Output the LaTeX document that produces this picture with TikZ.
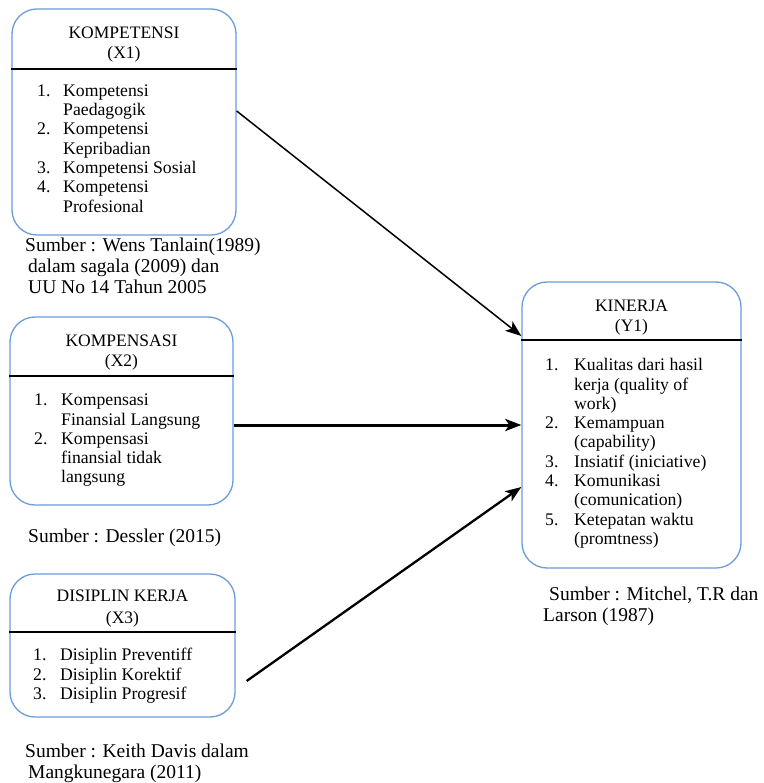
\documentclass[tikz,border=0pt]{standalone}
\usepackage{fontspec}
\setmainfont{Liberation Serif}
\usepackage{xcolor}
\usetikzlibrary{arrows.meta}
\definecolor{boxblue}{HTML}{6A9BDB}
\tikzset{varbox/.style={draw=boxblue, line width=1.3pt, rounded corners=25pt, inner sep=0pt},
 title/.style={align=center, inner sep=0pt, font=\fontsize{17.5}{20}\selectfont},
 items/.style={inner sep=0pt, anchor=north west, font=\fontsize{17.7}{19.3}\selectfont},
 source/.style={align=left, inner sep=0pt, anchor=north west, font=\fontsize{19.5}{21}\selectfont},
 divider/.style={draw=black, line width=1.2pt},
 link/.style={draw=black, -{Stealth[length=16pt,width=12pt,inset=4pt]}},
 }

\begin{document}
\begin{tikzpicture}[x=1pt,y=-1pt]
        \useasboundingbox (0,0) rectangle (763,783);

        \node[varbox, minimum width=224pt, minimum height=226pt] (x1) at (124,122) {};
        \node[title] (x1title) at (124,45) {KOMPETENSI\\(X1)};
        \draw[divider] (x1.west |- 0,69) -- (x1.east |- 0,69);
        \node[items] (x1items) at (37,82.5) {\begin{tabular}{@{}p{26pt}@{}l@{}}
          1. & Kompetensi\\ & Paedagogik\\
          2. & Kompetensi\\ & Kepribadian\\
          3. & Kompetensi Sosial\\
          4. & Kompetensi\\ & Profesional\end{tabular}};
        \node[source] (x1src) at (25,238) {Sumber : Wens Tanlain(1989)\\
          \hspace*{3pt}dalam sagala (2009) dan\\ \hspace*{3pt}UU No 14 Tahun 2005};

        \node[varbox, minimum width=223pt, minimum height=188pt] (x2) at (121.5,411) {};
        \node[title] (x2title) at (121.5,353) {KOMPENSASI\\(X2)};
        \draw[divider] (x2.west |- 0,376) -- (x2.east |- 0,376);
        \node[items] (x2items) at (34,392) {\begin{tabular}{@{}p{27pt}@{}l@{}}
          1. & Kompensasi\\ & Finansial Langsung\\
          2. & Kompensasi\\ & finansial tidak\\ & langsung\end{tabular}};
        \node[source] (x2src) at (28,529) {Sumber : Dessler (2015)};

        \node[varbox, minimum width=225pt, minimum height=143pt] (x3) at (122.5,645.5) {};
        \node[title, font=\fontsize{17.5}{22}\selectfont] (x3title) at (122.5,609) {DISIPLIN KERJA\\(X3)};
        \draw[divider] (x3.west |- 0,632) -- (x3.east |- 0,632);
        \node[items] (x3items) at (33,647) {\begin{tabular}{@{}p{27pt}@{}l@{}}
          1. & Disiplin Preventiff\\
          2. & Disiplin Korektif\\
          3. & Disiplin Progresif\end{tabular}};
        \node[source] (x3src) at (25,743.5) {Sumber : Keith Davis dalam\\
          \hspace*{3pt}Mangkunegara (2011)};

        \node[varbox, minimum width=219pt, minimum height=286pt] (kin) at (631.5,425) {};
        \node[title] (kintitle) at (631.5,318) {KINERJA\\(Y1)};
        \draw[divider] (kin.west |- 0,340) -- (kin.east |- 0,340);
        \node[items] (kinitems) at (545,357) {\begin{tabular}{@{}p{29pt}@{}l@{}}
          1. & Kualitas dari hasil\\ & kerja (quality of\\ & work)\\
          2. & Kemampuan\\ & (capability)\\
          3. & Insiatif (iniciative)\\
          4. & Komunikasi\\ & (comunication)\\
          5. & Ketepatan waktu\\ & (promtness)\end{tabular}};
        \node[source] (kinsrc) at (543,587) {\hspace*{6pt}Sumber : Mitchel, T.R dan\\Larson (1987)};

        \draw[link, line width=1.5pt] (x1.east |- 0,111) -- (kin.west |- 0,336);
        \draw[link, line width=3pt] (x2.east |- kin.west) -- (kin.west);
        \draw[link, line width=2.3pt] ([xshift=11pt]x3.east |- 0,681) -- (kin.west |- 0,487);
\end{tikzpicture}
\end{document}
